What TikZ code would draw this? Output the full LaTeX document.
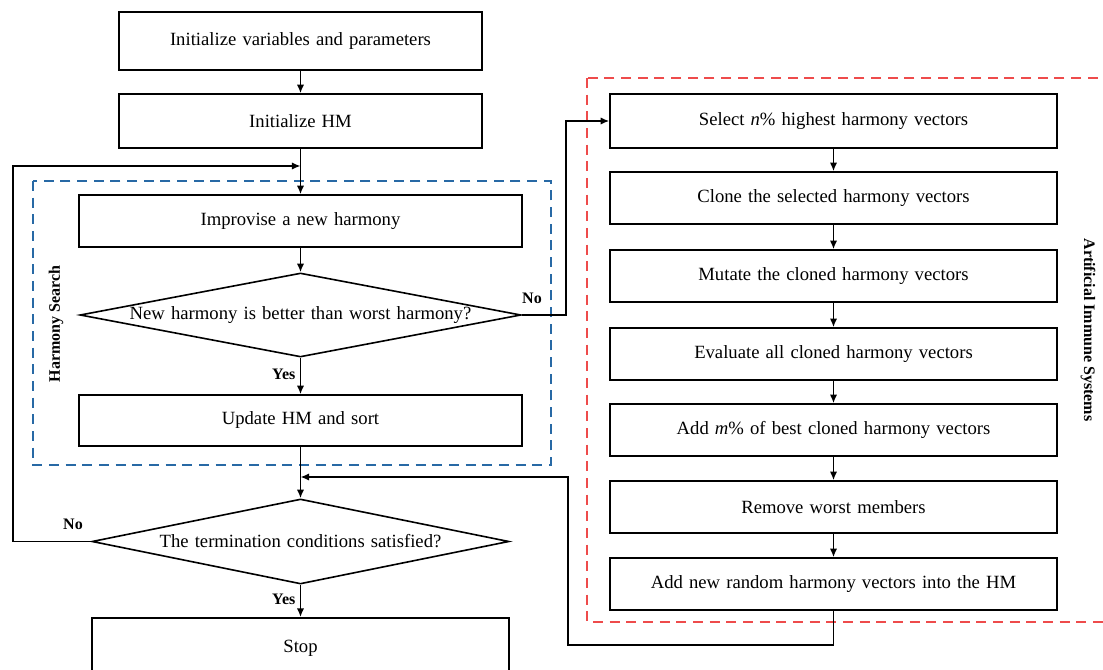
\documentclass[tikz,border=0pt]{standalone}
\usepackage{fontspec}
\setmainfont{Liberation Serif}
\usetikzlibrary{shapes.geometric,arrows.meta}
\definecolor{hsblue}{RGB}{40,105,165}
\definecolor{aisred}{RGB}{238,75,75}
\newcommand{\myboxfont}{\fontsize{14}{16}\selectfont\spaceskip=4.6pt plus 1pt minus 1pt\relax}
\begin{document}
\begin{tikzpicture}[x=0.75pt,y=-0.75pt,
  font=\myboxfont,
  box/.style 2 args={draw,line width=1.2pt,minimum width=#1*0.75pt,minimum height=#2*0.75pt,inner sep=0pt},
  dia/.style 2 args={draw,line width=1.2pt,shape=diamond,aspect=5.3,inner sep=0pt,minimum width=#1*0.75pt,minimum height=#2*0.75pt},
  arr/.style={draw,line width=1.1pt,-{Latex[length=6.5pt,width=5.5pt]}},
  lbl/.style={font=\fontsize{12}{14}\selectfont\bfseries},
  grp/.style={line width=1.2pt,dash pattern=on 7.5pt off 5pt}
]
\useasboundingbox (0,0) rectangle (1103,670);
% group frames
\draw[grp,hsblue] (33,181) rectangle (551,465);
\draw[grp,aisred] (587,78) rectangle (1115,622);
% left column
\node[box={363}{58}] (b1) at (300.5,41) {Initialize variables and parameters};
\node[box={363}{54}] (b2) at (300.5,121) {Initialize HM};
\node[box={443}{52}] (b3) at (300.5,221) {Improvise a new harmony};
\node[dia={441}{84}] (d1) at (300.5,315) {New harmony is better than worst harmony?};
\node[box={443}{51}] (b4) at (300.5,420.5) {Update HM and sort};
\node[dia={417}{85}] (d2) at (300.5,541.5) {The termination conditions satisfied?};
\node[box={417}{70}, anchor=north] (stop) at (300.5,617) {};
\node (stoptxt) at (300.5,648) {Stop};
% right column
\node[box={447}{54}] (a1) at (833.5,121) {Select \textit{n}\% highest harmony vectors};
\node[box={447}{52}] (a2) at (833.5,198) {Clone the selected harmony vectors};
\node[box={447}{52}] (a3) at (833.5,276) {Mutate the cloned harmony vectors};
\node[box={447}{52}] (a4) at (833.5,354) {Evaluate all cloned harmony vectors};
\node[box={447}{52}] (a5) at (833.5,430) {Add \textit{m}\% of best cloned harmony vectors};
\node[box={447}{52}] (a6) at (833.5,507) {Remove worst members};
\node[box={447}{52}] (a7) at (833.5,584) {Add new random harmony vectors into the HM};
% side labels
\node[lbl,rotate=90] (hs) at (56,324) {Harmony Search};
\node[lbl,rotate=-90] (ais) at (1088,330) {Artificial Immune Systems};
% coordinates
\coordinate (loopin) at (300.5,166);
\coordinate (loopl1) at (13,541.5);
\coordinate (loopl2) at (13,166);
\coordinate (nor) at (566,315);
\coordinate (ret1) at (833.5,645);
\coordinate (ret2) at (568,645);
\coordinate (ret3) at (568,477);
\coordinate (retin) at (300.5,477);
% connectors
\path[arr] (b1) -- (b2);
\path[arr] (b2) -- (b3);
\path[arr] (b3) -- (d1);
\path[arr] (d1) -- node[lbl,left,pos=0.45] {Yes} (b4);
\path[arr] (b4) -- (d2);
\path[arr] (d2) -- node[lbl,left,pos=0.45] {Yes} (stop);
\path[arr] (d2.west) -- (loopl1) -- (loopl2) -- (loopin);
\node[lbl] (no2) at (73,524) {No};
\path[arr] (d1.east) -- (nor) |- (a1.west);
\node[lbl] (no1) at (532,298) {No};
\path[arr] (a1) -- (a2);
\path[arr] (a2) -- (a3);
\path[arr] (a3) -- (a4);
\path[arr] (a4) -- (a5);
\path[arr] (a5) -- (a6);
\path[arr] (a6) -- (a7);
\path[arr] (a7.south) -- (ret1) -- (ret2) -- (ret3) -- (retin);
\end{tikzpicture}
\end{document}
